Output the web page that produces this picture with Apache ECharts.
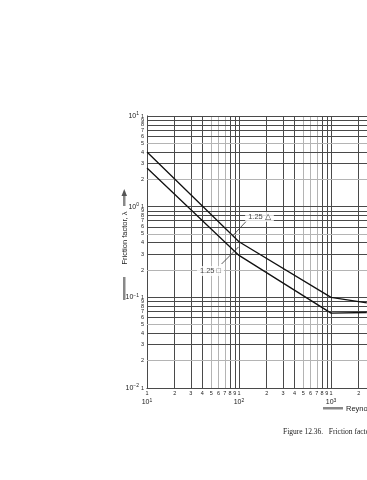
<!DOCTYPE html>
<html><head><meta charset="utf-8">
<script src="https://cdn.jsdelivr.net/npm/echarts@6/dist/echarts.min.js"></script>
<style>html,body{margin:0;padding:0;background:#fff;overflow:hidden}#c{width:367px;height:480px}</style>
</head><body><div id="c"></div>
<script>
// ---- data ----
const reynolds = [10, 100, 1000, 2450];
const frictionTriangle = [4.0, 0.41, 0.10, 0.087];
const frictionSquare = [2.67, 0.29, 0.067, 0.068];
const mantissas = [1, 2, 3, 4, 5, 6, 7, 8, 9];
const xDecades = [10, 100, 1000];
const yDecades = [0.01, 0.1, 1];
const yTop = 10;
const xMax = 2460; // right edge of the visible (cropped) plot
const labelTriangle = '1.25 △';
const labelSquare = '1.25 □';
const labelTrianglePos = [167, 0.77];
const labelSquarePos = [49, 0.195];
const leaderTriangle = [[123.6, 0.713], [85, 0.475]];
const leaderSquare = [[64.6, 0.233], [98.9, 0.36]];
const yAxisTitle = 'Friction factor, λ';
const xAxisTitle = 'Reynolds number, Re';
const caption = 'Figure 12.36.   Friction factor versus Reynolds number';

// ---- styles ----
const DARK = '#4a4a4a', LIGHT = '#b4b4b4';
const xDark = { 1: 1, 2: 1, 3: 1, 4: 1, 8: 1, 9: 1 };
const yDark = { 1: 1, 3: 1, 4: 1, 6: 1, 7: 1, 8: 1, 9: 1 };
function decLabel(v) {
  const e = Math.round(Math.log10(v));
  return '{b|10}{s|' + String(e).replace('-', '−') + '}';
}
const decRich = {
  b: { fontSize: 7, color: '#222', fontFamily: 'Liberation Sans' },
  s: { fontSize: 5, color: '#222', fontFamily: 'Liberation Sans', padding: [0, 0, 4, 0] }
};

const xLinesBottom = [], xLinesTop = [], yLines = [];
xDecades.forEach(d => mantissas.forEach(m => {
  const v = +(m * d).toPrecision(6);
  if (v > xMax) return;
  xLinesBottom.push({ xAxis: v, lineStyle: { color: xDark[m] ? DARK : LIGHT }, label: { formatter: String(m) } });
  xLinesTop.push({ xAxis: v, label: { formatter: String(m) } });
}));
yDecades.forEach(d => mantissas.forEach(m => {
  const v = +(m * d).toPrecision(6);
  yLines.push({ yAxis: v, lineStyle: { color: yDark[m] ? DARK : LIGHT }, label: { formatter: String(m) } });
}));
yLines.push({ yAxis: yTop, lineStyle: { color: DARK }, label: { formatter: '1' } });

const digitFont = { fontSize: 5.5, color: '#222', fontFamily: 'Liberation Sans' };

const chart = echarts.init(document.getElementById('c'), null, { renderer: 'canvas' });
chart.setOption({
  animation: false,
  backgroundColor: '#fff',
  grid: { left: 147, top: 116, right: 0, height: 272, containLabel: false },
  xAxis: {
    type: 'log', logBase: 10, min: 10, max: xMax,
    axisLine: { show: true, lineStyle: { color: '#222', width: 1 } },
    axisTick: { show: false }, splitLine: { show: false },
    axisLabel: { margin: 10, formatter: decLabel, rich: decRich, showMaxLabel: false }
  },
  yAxis: {
    type: 'log', logBase: 10, min: 0.01, max: 10,
    axisLine: { show: true, lineStyle: { color: '#222', width: 1 } },
    axisTick: { show: false }, splitLine: { show: false },
    axisLabel: { margin: 8, formatter: decLabel, rich: decRich }
  },
  series: [
    {
      type: 'line', data: reynolds.map((x, i) => [x, frictionTriangle[i]]),
      symbol: 'none', lineStyle: { color: '#111', width: 1.3 }, z: 5,
      markLine: {
        silent: true, symbol: ['none', 'none'], animation: false,
        lineStyle: { type: 'solid', width: 1 },
        label: Object.assign({ show: true, position: 'start', distance: 2 }, digitFont),
        data: xLinesBottom
      }
    },
    {
      type: 'line', data: reynolds.map((x, i) => [x, frictionSquare[i]]),
      symbol: 'none', lineStyle: { color: '#111', width: 1.3 }, z: 5,
      markLine: {
        silent: true, symbol: ['none', 'none'], animation: false,
        lineStyle: { type: 'solid', width: 1 },
        label: Object.assign({ show: true, position: 'start', distance: 3 }, digitFont),
        data: yLines
      }
    },
    {
      type: 'line', data: [], symbol: 'none',
      markLine: {
        silent: true, symbol: ['none', 'none'], animation: false,
        lineStyle: { width: 0, opacity: 0 },
        label: Object.assign({ show: true, position: 'end', distance: 2 }, digitFont),
        data: xLinesTop
      }
    },
    { type: 'line', data: leaderTriangle, symbol: 'none', lineStyle: { color: '#333', width: 0.8 }, z: 6 },
    { type: 'line', data: leaderSquare, symbol: 'none', lineStyle: { color: '#333', width: 0.8 }, z: 6 },
    {
      type: 'scatter', symbolSize: 0, z: 7,
      data: [
        { value: labelTrianglePos, name: labelTriangle },
        { value: labelSquarePos, name: labelSquare }
      ],
      label: {
        show: true, position: 'inside', formatter: p => p.name,
        fontSize: 7.5, color: '#111', fontFamily: 'Liberation Sans',
        backgroundColor: '#fff', padding: [1, 3]
      }
    }
  ],
  graphic: [
    { type: 'rect', shape: { x: 123, y: 277, width: 2.5, height: 23 }, style: { fill: '#888' } },
    { type: 'rect', shape: { x: 123, y: 195, width: 2.5, height: 11 }, style: { fill: '#888' } },
    { type: 'polygon', shape: { points: [[121.5, 196], [124.25, 189], [127, 196]] }, style: { fill: '#555' } },
    {
      type: 'text', x: 124.5, y: 238, rotation: Math.PI / 2,
      style: { text: yAxisTitle, fontSize: 7.5, fill: '#222', fontFamily: 'Liberation Sans', align: 'center', verticalAlign: 'middle' }
    },
    { type: 'rect', shape: { x: 323, y: 407, width: 20, height: 2.5 }, style: { fill: '#888' } },
    {
      type: 'text', x: 346, y: 408.5,
      style: { text: xAxisTitle, fontSize: 7.5, fill: '#222', fontFamily: 'Liberation Sans', verticalAlign: 'middle' }
    },
    {
      type: 'text', x: 283, y: 432,
      style: { text: caption, fontSize: 7.5, fill: '#222', fontFamily: 'Liberation Serif', verticalAlign: 'middle' }
    }
  ]
});
</script>
</body></html>
